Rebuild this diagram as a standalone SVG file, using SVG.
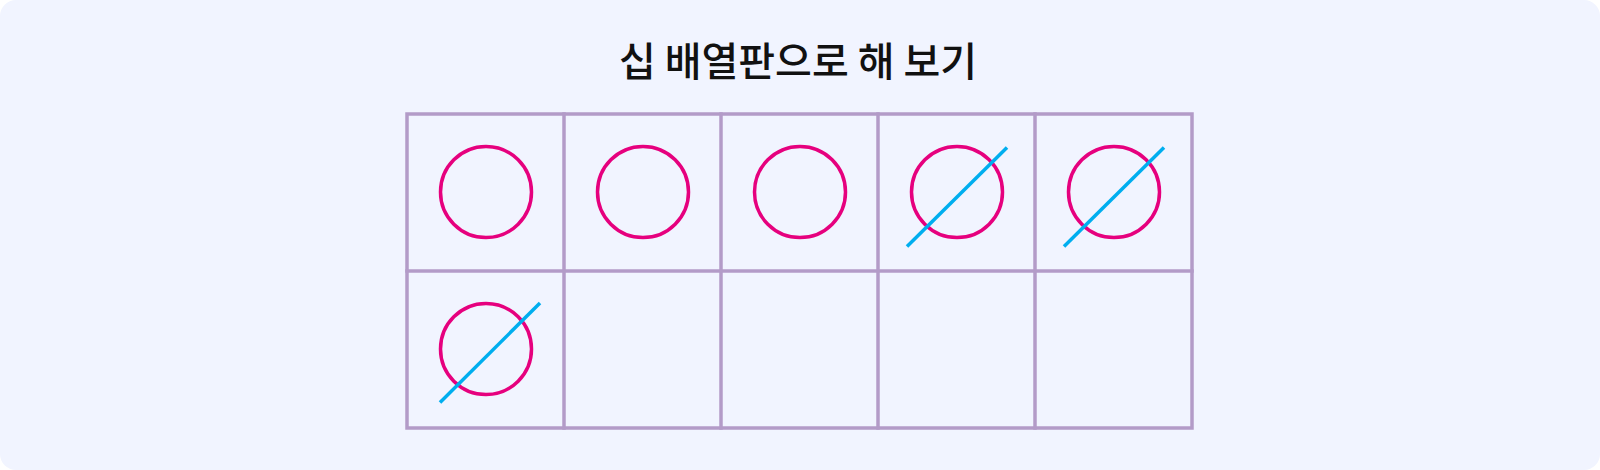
<svg xmlns="http://www.w3.org/2000/svg" width="1600" height="470" viewBox="0 0 1600 470">
<style>
.bg{fill:#f1f4ff}
.grid{fill:none;stroke:#b39bc8;stroke-width:3.5;stroke-linecap:square}
.c{fill:none;stroke:#e6007e;stroke-width:3.5}
.s{stroke:#00aeef;stroke-width:3.5}
.t{font-family:"Noto Sans CJK KR","Noto Sans",sans-serif;font-size:40px;font-weight:500;fill:#111;text-anchor:middle}
</style>
<rect class="bg" x="0" y="0" width="1600" height="470" rx="16"/>
<text class="t" x="798" y="76">십 배열판으로 해 보기</text>
<g id="grid">
<rect class="grid" x="407" y="114" width="785" height="314"/>
<line class="grid" x1="407" y1="271" x2="1192" y2="271"/>
<line class="grid" x1="564" y1="114" x2="564" y2="428"/>
<line class="grid" x1="721" y1="114" x2="721" y2="428"/>
<line class="grid" x1="878" y1="114" x2="878" y2="428"/>
<line class="grid" x1="1035" y1="114" x2="1035" y2="428"/>
</g>
<g id="c1"><circle class="c" cx="486" cy="192" r="45.5"/></g>
<g id="c2"><circle class="c" cx="643" cy="192" r="45.5"/></g>
<g id="c3"><circle class="c" cx="800" cy="192" r="45.5"/></g>
<g id="c4"><circle class="c" cx="957" cy="192" r="45.5"/><line class="s" x1="907" y1="246.5" x2="1007" y2="147.5"/></g>
<g id="c5"><circle class="c" cx="1114" cy="192" r="45.5"/><line class="s" x1="1064" y1="246.5" x2="1164" y2="147.5"/></g>
<g id="c6"><circle class="c" cx="486" cy="349" r="45.5"/><line class="s" x1="440" y1="402.5" x2="540" y2="303"/></g>
</svg>
